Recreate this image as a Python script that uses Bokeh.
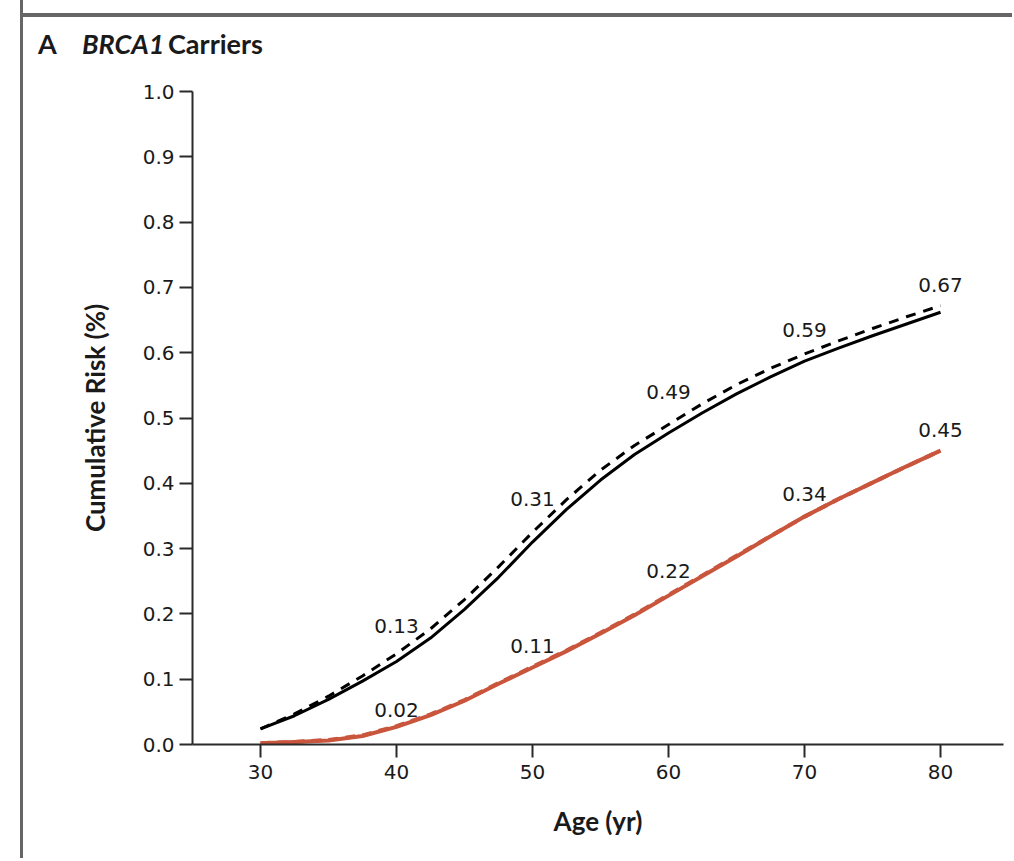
from bokeh.plotting import figure
from bokeh.models import Range1d, FixedTicker, ColumnDataSource, Div
from bokeh.layouts import column
from bokeh.embed import file_html
from bokeh.resources import INLINE
from bokeh.core.properties import value

# ---------------- data ----------------
ages = [30, 32.5, 35, 37.5, 40, 42.5, 45, 47.5, 50, 52.5, 55, 57.5,
        60, 62.5, 65, 67.5, 70, 72.5, 75, 77.5, 80]
carrier_solid = [0.024, 0.044, 0.069, 0.097, 0.127, 0.163, 0.207, 0.256, 0.310,
                 0.360, 0.405, 0.444, 0.477, 0.508, 0.537, 0.563, 0.587, 0.607,
                 0.626, 0.644, 0.662]
carrier_dashed = [0.024, 0.047, 0.074, 0.105, 0.139, 0.177, 0.222, 0.272, 0.325,
                  0.375, 0.420, 0.458, 0.490, 0.522, 0.551, 0.576, 0.598, 0.618,
                  0.637, 0.655, 0.672]
second_solid = [0.002, 0.004, 0.006, 0.013, 0.027, 0.045, 0.067, 0.093, 0.118,
                0.143, 0.170, 0.198, 0.228, 0.258, 0.288, 0.319, 0.349, 0.376,
                0.401, 0.426, 0.450]
second_dashed = [0.002, 0.004, 0.007, 0.014, 0.028, 0.046, 0.068, 0.094, 0.119,
                 0.144, 0.171, 0.199, 0.229, 0.259, 0.289, 0.319, 0.349, 0.376,
                 0.401, 0.426, 0.450]

label_ages = [40, 50, 60, 70, 80]
upper_values = [0.13, 0.31, 0.49, 0.59, 0.67]
upper_texts = ["0.13", "0.31", "0.49", "0.59", "0.67"]
lower_values = [0.02, 0.11, 0.22, 0.34, 0.45]
lower_texts = ["0.02", "0.11", "0.22", "0.34", "0.45"]

x_ticks = [30, 40, 50, 60, 70, 80]
y_ticks = [0.0, 0.1, 0.2, 0.3, 0.4, 0.5, 0.6, 0.7, 0.8, 0.9, 1.0]
y_tick_labels = ["0.0", "0.1", "0.2", "0.3", "0.4", "0.5", "0.6", "0.7", "0.8", "0.9", "1.0"]

title_parts = ["A", "BRCA1", "Carriers"]

# ---------------- style ----------------
TICK_FONT = "DejaVu Sans"
TITLE_FONT = "Lato"
TEXT_COLOR = "#1a1a1a"
RED = "#c9563c"
GRAY = "#666666"
upper_offsets = [-27, -36, -26, -22, -15]
lower_offsets = [-14, -20, -23, -21, -14]

p = figure(width=989, height=788, output_backend="svg", toolbar_location=None,
           x_range=Range1d(25, 84.63), y_range=Range1d(0, 1.0),
           min_border_left=169, min_border_right=9, min_border_top=21,
           min_border_bottom=114)
p.outline_line_color = None
p.xgrid.visible = False
p.ygrid.visible = False
p.background_fill_color = "white"
p.border_fill_color = "white"

for ax in (p.xaxis[0], p.yaxis[0]):
    ax.axis_line_color = "#2a2a2a"
    ax.axis_line_width = 2
    ax.major_tick_line_color = "#2a2a2a"
    ax.major_tick_line_width = 2
    ax.major_tick_out = 13
    ax.major_tick_in = 0
    ax.minor_tick_line_color = None
    ax.major_label_text_font = TICK_FONT
    ax.major_label_text_font_size = "20px"
    ax.major_label_text_color = TEXT_COLOR
    ax.axis_label_text_font = TITLE_FONT
    ax.axis_label_text_font_style = "bold"
    ax.axis_label_text_font_size = "26px"
    ax.axis_label_text_color = TEXT_COLOR

p.xaxis.ticker = FixedTicker(ticks=x_ticks)
p.yaxis.ticker = FixedTicker(ticks=y_ticks)
p.yaxis.major_label_overrides = {t: s for t, s in zip(y_ticks, y_tick_labels)}
p.xaxis.axis_label = "Age (yr)"
p.yaxis.axis_label = "Cumulative Risk (%)"
p.xaxis.major_label_standoff = 7
p.yaxis.major_label_standoff = 5
p.xaxis.axis_label_standoff = 23
p.yaxis.axis_label_standoff = 29

# curves
p.line(ages, second_dashed, line_color=RED, line_width=4, line_dash="10 7")
p.line(ages, second_solid, line_color=RED, line_width=4)
p.line(ages, carrier_solid, line_color="black", line_width=3)
p.line(ages, carrier_dashed, line_color="black", line_width=3, line_dash="10 8")

# value labels
up_src = ColumnDataSource(dict(x=label_ages, y=upper_values, t=upper_texts, off=upper_offsets))
lo_src = ColumnDataSource(dict(x=label_ages, y=lower_values, t=lower_texts, off=lower_offsets))
for src in (up_src, lo_src):
    p.text(x="x", y="y", text="t", y_offset="off", source=src,
           text_font=value(TICK_FONT), text_font_size="20px", text_color=TEXT_COLOR,
           text_align="center", text_baseline="bottom")

# panel title row with the page rule above it
span_style = ("position:absolute;top:30px;font-family:Lato;font-weight:bold;"
              "font-size:27px;line-height:1;color:%s;white-space:nowrap;" % TEXT_COLOR)
title_html = (
    '<div style="position:relative;width:989px;height:70px;">'
    '<div style="position:absolute;left:0;top:13px;width:989px;height:4px;background:%s;"></div>'
    '<span style="%sleft:15px;">%s</span>'
    '<span style="%sleft:59px;font-style:italic;">%s</span>'
    '<span style="%sleft:145px;">%s</span>'
    '</div>' % (GRAY, span_style, title_parts[0], span_style, title_parts[1],
                span_style, title_parts[2])
)
header = Div(text=title_html, width=989, height=70, margin=0)

layout = column(header, p, margin=(0, 0, 0, 20), spacing=0,
                styles={"border-left": "3px solid %s" % GRAY})

open("out.html", "w").write(file_html(layout, INLINE))
